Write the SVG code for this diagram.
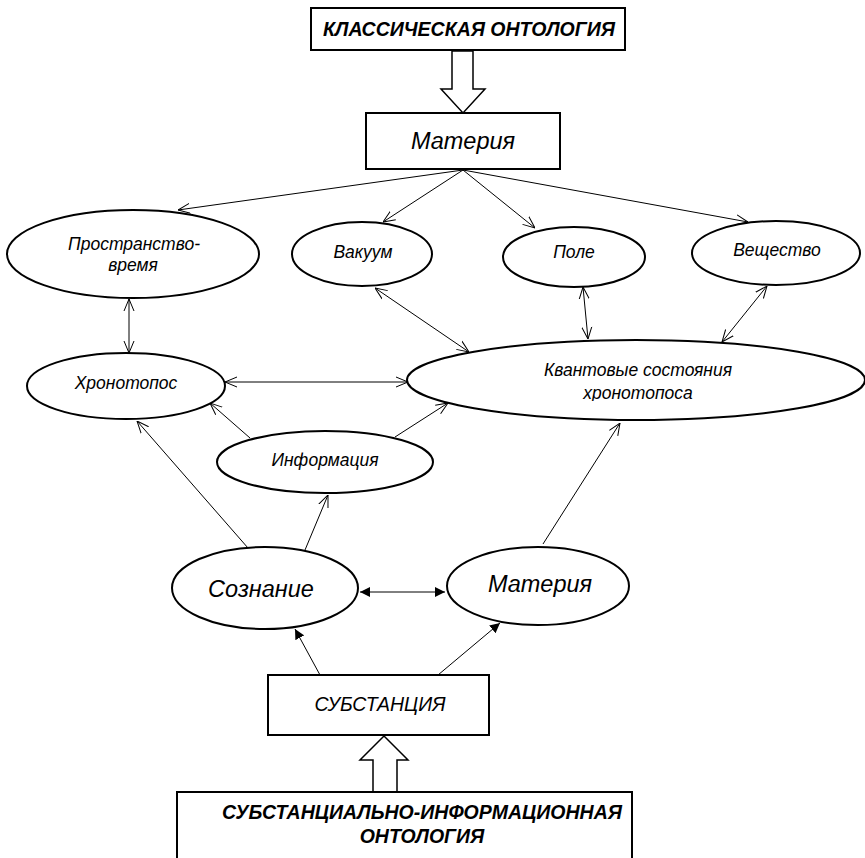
<svg xmlns="http://www.w3.org/2000/svg" width="865" height="858" viewBox="0 0 865 858">
<style>
.box{fill:#fff;stroke:#000;stroke-width:2}
.ell{fill:#fff;stroke:#000;stroke-width:2}
.hollow{fill:#fff;stroke:#000;stroke-width:1.5;stroke-linejoin:miter}
.ln{fill:none;stroke:#000;stroke-width:1}
.t{font-family:"Liberation Sans",Arial,sans-serif;font-style:italic;fill:#000;text-anchor:middle}
.s{font-size:17.5px}
.m{font-size:23.5px}
.b{font-weight:bold;font-size:19.5px}
</style>
<defs>
<marker id="open" viewBox="0 0 12 12" refX="12" refY="6" markerWidth="12" markerHeight="12" markerUnits="userSpaceOnUse" orient="auto-start-reverse">
<path d="M0,1 L12,6 L0,11" fill="none" stroke="#000" stroke-width="1"/>
</marker>
<marker id="fill" viewBox="0 0 10 10" refX="10" refY="5" markerWidth="10" markerHeight="10" markerUnits="userSpaceOnUse" orient="auto-start-reverse">
<path d="M0,0 L10,5 L0,10 Z" fill="#000"/>
</marker>
<clipPath id="kclip"><rect x="400" y="340" width="465" height="61"/></clipPath>
</defs>

<g id="connectors">
<path class="hollow" d="M452,51 L473,51 L473,89 L485,89 L463,113 L441,89 L452,89 Z"/>
<path class="hollow" d="M373,792 L397,792 L397,760 L408,760 L384,736 L360,760 L373,760 Z"/>
<line class="ln" x1="463" y1="170" x2="178" y2="210" marker-end="url(#open)"/>
<line class="ln" x1="463" y1="170" x2="383" y2="222" marker-end="url(#open)"/>
<line class="ln" x1="463" y1="170" x2="535" y2="228" marker-end="url(#open)"/>
<line class="ln" x1="463" y1="170" x2="748" y2="222" marker-end="url(#open)"/>
<line class="ln" x1="129" y1="299" x2="129" y2="353" marker-start="url(#open)" marker-end="url(#open)"/>
<line class="ln" x1="375" y1="288" x2="469" y2="352" marker-start="url(#open)" marker-end="url(#open)"/>
<line class="ln" x1="583" y1="287" x2="588" y2="339" marker-start="url(#open)" marker-end="url(#open)"/>
<line class="ln" x1="767" y1="286" x2="722" y2="342" marker-start="url(#open)" marker-end="url(#open)"/>
<line class="ln" x1="225" y1="382" x2="408" y2="382" marker-start="url(#open)" marker-end="url(#open)"/>
<line class="ln" x1="250" y1="438" x2="210" y2="403" marker-end="url(#open)"/>
<line class="ln" x1="395" y1="437" x2="448" y2="403" marker-end="url(#open)"/>
<line class="ln" x1="248" y1="548" x2="137" y2="421" marker-end="url(#open)"/>
<line class="ln" x1="305" y1="550" x2="328" y2="495" marker-end="url(#open)"/>
<line class="ln" x1="543" y1="544" x2="620" y2="423" marker-end="url(#open)"/>
<line class="ln" x1="360" y1="592" x2="445" y2="592" marker-start="url(#fill)" marker-end="url(#fill)"/>
<line class="ln" x1="320" y1="675" x2="295" y2="629" marker-end="url(#fill)"/>
<line class="ln" x1="438" y1="675" x2="500" y2="623" marker-end="url(#fill)"/>
</g>

<g id="n-classic">
<rect class="box" x="311" y="8" width="314" height="42"/>
<text class="t b" x="469" y="36">КЛАССИЧЕСКАЯ ОНТОЛОГИЯ</text>
</g>

<g id="n-materiya-top">
<rect class="box" x="366" y="113" width="194" height="56"/>
<text class="t m" x="463" y="149">Материя</text>
</g>

<g id="n-prostranstvo">
<ellipse class="ell" cx="133" cy="254" rx="126" ry="44"/>
<text class="t s" x="134" y="250">Пространство-</text>
<text class="t s" x="133" y="271">время</text>
</g>

<g id="n-vakuum">
<ellipse class="ell" cx="362" cy="254" rx="70" ry="32"/>
<text class="t s" x="363" y="258">Вакуум</text>
</g>

<g id="n-pole">
<ellipse class="ell" cx="574" cy="257" rx="71" ry="30"/>
<text class="t s" x="574" y="258">Поле</text>
</g>

<g id="n-veshchestvo">
<ellipse class="ell" cx="776" cy="253" rx="84" ry="32"/>
<text class="t s" x="777" y="256">Вещество</text>
</g>

<g id="n-khronotopos">
<ellipse class="ell" cx="126" cy="386" rx="99" ry="33"/>
<text class="t s" x="126" y="389">Хронотопос</text>
</g>

<g id="n-kvantovye">
<ellipse class="ell" cx="636" cy="380" rx="229" ry="40"/>
<g clip-path="url(#kclip)">
<text class="t s" x="638" y="376">Квантовые состояния</text>
<text class="t s" x="638" y="399">хронотопоса</text>
</g>
</g>

<g id="n-informatsiya">
<ellipse class="ell" cx="325" cy="462" rx="108" ry="31"/>
<text class="t s" x="325" y="466">Информация</text>
</g>

<g id="n-soznanie">
<ellipse class="ell" cx="265" cy="588" rx="93" ry="41"/>
<text class="t m" x="261" y="597">Сознание</text>
</g>

<g id="n-materiya-bottom">
<ellipse class="ell" cx="538" cy="586" rx="91" ry="39"/>
<text class="t m" x="540" y="592">Материя</text>
</g>

<g id="n-substantsiya">
<rect class="box" x="268" y="675" width="221" height="60"/>
<text class="t" x="380" y="711" font-size="19.5">СУБСТАНЦИЯ</text>
</g>

<g id="n-si-ontology">
<rect class="box" x="177" y="792" width="455" height="80"/>
<text class="t b" x="422" y="819">СУБСТАНЦИАЛЬНО-ИНФОРМАЦИОННАЯ</text>
<text class="t b" x="422" y="843">ОНТОЛОГИЯ</text>
</g>
</svg>
